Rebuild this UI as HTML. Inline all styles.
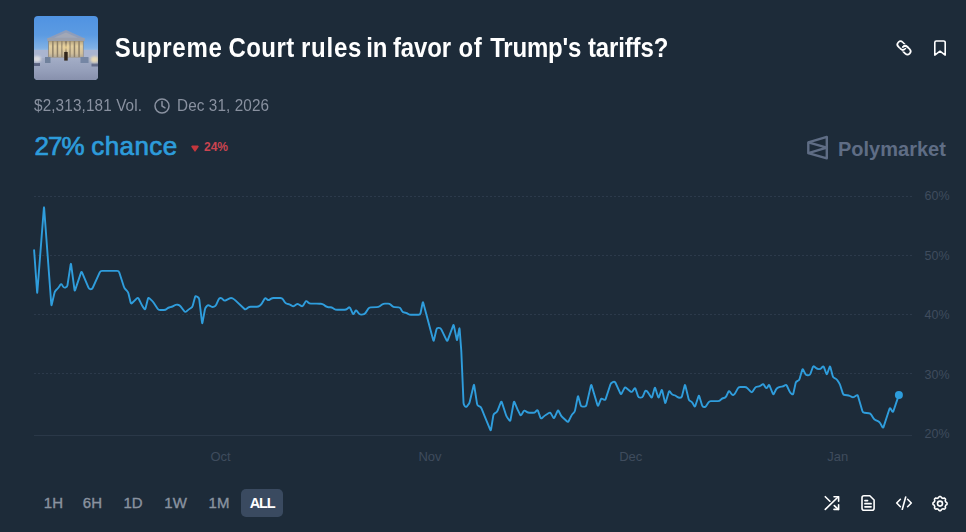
<!DOCTYPE html>
<html><head><meta charset="utf-8">
<style>
*{box-sizing:border-box;margin:0;padding:0}
html,body{width:966px;height:532px;background:#1d2b39;overflow:hidden;font-family:"Liberation Sans",sans-serif;}
.abs{position:absolute}
#thumb{left:34px;top:16px;width:64px;height:64px;border-radius:4px;overflow:hidden}
#title{left:0;top:34px;width:700px;height:30px;font-size:24px;font-weight:700;color:#fff;line-height:30px;white-space:nowrap;transform:scaleY(1.13);transform-origin:0 22.9px}
#title span{position:absolute;top:0}
#vol{left:34px;top:96px;font-size:15.3px;color:#8991a0;line-height:20px;white-space:nowrap;letter-spacing:0.12px;transform:scaleY(1.08);transform-origin:0 15px}
#date{left:177px;top:96px;font-size:15.3px;color:#8991a0;line-height:20px;white-space:nowrap;letter-spacing:0.1px;transform:scaleY(1.08);transform-origin:0 15px}
#chance{left:0;top:130px;font-size:26px;color:#2d9cdb;line-height:32px;white-space:nowrap;-webkit-text-stroke:0.7px #2d9cdb}
#chance span{position:absolute;top:0}
#delta{left:204px;top:140px;font-size:12px;font-weight:700;color:#cb4450;line-height:14px;white-space:nowrap}
#pm{left:838px;top:136.500px;font-size:20px;color:#5f6d85;line-height:24px;white-space:nowrap;font-weight:700}
.yl{left:922px;width:30px;font-size:12.5px;margin-top:0.7px;color:#3f4c5d;line-height:14px;white-space:nowrap;text-align:center}
.xl{top:449.700px;width:40px;font-size:13px;color:#3f4c5d;line-height:14px;white-space:nowrap;text-align:center}
.tb{top:495px;width:40px;font-size:15px;color:#8a93a0;line-height:16px;white-space:nowrap;text-align:center;-webkit-text-stroke:0.35px #8a93a0}
#all{left:240.5px;top:489px;width:42.7px;height:27.5px;border-radius:5px;background:#3a4a60;color:#fff;font-weight:700;font-size:14.5px;line-height:28.5px;text-align:center;letter-spacing:-1.1px;padding-left:0.5px}
svg{position:absolute;left:0;top:0;overflow:visible}
</style></head><body>
<div id="thumb" class="abs">
<svg width="64" height="64" viewBox="0 0 64 64">
<defs>
<linearGradient id="sky" x1="0" y1="0" x2="0" y2="1"><stop offset="0" stop-color="#5093e2"/><stop offset="0.3" stop-color="#5c9be2"/><stop offset="0.5" stop-color="#7fb0e4"/><stop offset="0.56" stop-color="#a4bfe0"/></linearGradient>
<linearGradient id="steps" x1="0" y1="0" x2="0" y2="1"><stop offset="0" stop-color="#a3adc6"/><stop offset="0.5" stop-color="#959fba"/><stop offset="1" stop-color="#838ca8"/></linearGradient>
<linearGradient id="col" x1="0" y1="0" x2="0" y2="1"><stop offset="0" stop-color="#b9a884"/><stop offset="0.3" stop-color="#e2cfa0"/><stop offset="0.75" stop-color="#d2c09c"/><stop offset="1" stop-color="#b0a898"/></linearGradient>
<radialGradient id="glow" cx="0.5" cy="0.45" r="0.5"><stop offset="0" stop-color="#f6dc9a" stop-opacity="0.9"/><stop offset="1" stop-color="#e8cf9a" stop-opacity="0"/></radialGradient>
<filter id="bl" x="-10%" y="-10%" width="120%" height="120%"><feGaussianBlur stdDeviation="0.75"/></filter>
<filter id="bl2" x="-30%" y="-30%" width="160%" height="160%"><feGaussianBlur stdDeviation="1.1"/></filter>
</defs>
<rect width="64" height="64" fill="url(#sky)"/>
<g filter="url(#bl)">
<rect x="-2" y="34" width="68" height="9" fill="#aab5d0"/>
<rect x="-2" y="42" width="68" height="25" fill="url(#steps)"/>
<polygon points="13,22.500 32,14 51,22.500" fill="#8e9dba"/>
<polygon points="20,21.800 32,16.500 44,21.800" fill="#a2a8b6"/>
<rect x="13.300" y="22" width="37.400" height="3.200" fill="#9a9fac"/>
<rect x="14.300" y="25" width="35.200" height="16.500" fill="#8f8168"/>
<g fill="url(#col)">
<rect x="15" y="25.300" width="3.100" height="16"/><rect x="19.600" y="25.300" width="3.100" height="16"/><rect x="24.200" y="25.300" width="3.100" height="16"/><rect x="28.500" y="25.300" width="2.400" height="16"/><rect x="33" y="25.300" width="2.400" height="16"/><rect x="36.600" y="25.300" width="3.100" height="16"/><rect x="41.200" y="25.300" width="3.100" height="16"/><rect x="45.800" y="25.300" width="3.100" height="16"/>
</g>
<rect x="27" y="27" width="10" height="10" fill="url(#glow)"/>
<rect x="30.200" y="36" width="3.500" height="8.600" fill="#33281c"/>
<rect x="11" y="41" width="5.500" height="6" fill="#6f819c"/>
<rect x="46.500" y="41" width="8" height="6" fill="#7486a4"/>
<rect x="-2" y="47" width="8" height="3" fill="#5a6482"/>
<rect x="57.500" y="47.500" width="8" height="3" fill="#626c8a"/>
</g>
<g filter="url(#bl2)">
<ellipse cx="3" cy="43" rx="4" ry="3" fill="#dcdce0"/>
<ellipse cx="60.500" cy="43.500" rx="4" ry="3.200" fill="#e6d9b6"/>
</g>
</svg>
</div>
<div id="title" class="abs"><span style="left:114.7px;letter-spacing:0.75px">Supreme</span><span style="left:228.4px;letter-spacing:0.45px">Court</span><span style="left:301.0px;letter-spacing:0.75px">rules</span><span style="left:366.2px;letter-spacing:0.00px">in</span><span style="left:393.0px;letter-spacing:-0.12px">favor</span><span style="left:458.4px;letter-spacing:0.80px">of</span><span style="left:490.2px;letter-spacing:-0.20px">Trump's</span><span style="left:588.0px;letter-spacing:-0.15px">tariffs?</span></div>
<div id="vol" class="abs">$2,313,181 Vol.</div>
<div id="date" class="abs">Dec 31, 2026</div>
<div id="chance" class="abs"><span style="left:34.500px;letter-spacing:-0.9px">27%</span><span style="left:91.200px;letter-spacing:0.45px">chance</span></div>
<div id="delta" class="abs">24%</div>
<div id="pm" class="abs">Polymarket</div>
<div class="abs yl" style="top:188px">60%</div>
<div class="abs yl" style="top:248px">50%</div>
<div class="abs yl" style="top:307px">40%</div>
<div class="abs yl" style="top:367px">30%</div>
<div class="abs yl" style="top:426px">20%</div>
<div class="abs xl" style="left:200.5px">Oct</div>
<div class="abs xl" style="left:410px">Nov</div>
<div class="abs xl" style="left:610.7px">Dec</div>
<div class="abs xl" style="left:817.7px">Jan</div>
<div class="abs tb" style="left:33.4px">1H</div>
<div class="abs tb" style="left:72.4px">6H</div>
<div class="abs tb" style="left:113px">1D</div>
<div class="abs tb" style="left:155.6px">1W</div>
<div class="abs tb" style="left:199px">1M</div>
<div id="all" class="abs">ALL</div>
<svg width="966" height="532" viewBox="0 0 966 532">
<!-- grid -->
<g stroke="#2c3a4b" stroke-width="1" stroke-dasharray="2 2" fill="none">
<path d="M34,196.5H912"/><path d="M34,255.5H912"/><path d="M34,314.5H912"/><path d="M34,373.5H912"/>
</g>
<path d="M34,435.5H912" stroke="#2a3848" stroke-width="1" fill="none"/>
<!-- line -->
<path d="M34.10,250.10L37.09,292.10Q37.20,293.70,37.32,292.10L43.88,207.90Q44.00,206.30,44.12,207.90L51.28,304.50Q51.40,306.10,51.76,304.54L54.44,292.96Q54.80,291.40,55.93,290.27L57.07,289.13Q58.20,288.00,59.09,286.67L60.31,284.83Q61.20,283.50,62.02,284.87L63.08,286.63Q63.90,288.00,65.42,287.49L65.68,287.41Q67.20,286.90,67.44,285.32L70.66,264.38Q70.90,262.80,71.11,264.39L74.49,289.81Q74.70,291.40,75.21,289.88L80.99,272.62Q81.50,271.10,82.12,272.58L88.48,287.72Q89.10,289.20,90.60,289.20L90.60,289.20Q92.10,289.20,92.76,287.74L99.74,272.36Q100.40,270.90,102.00,270.90L117.20,270.90Q118.80,270.90,119.29,272.42L123.81,286.58Q124.30,288.10,125.42,289.25L126.98,290.85Q128.10,292.00,128.47,293.56L130.63,302.54Q131.00,304.10,132.15,302.99L136.85,298.41Q138.00,297.30,138.71,298.73L141.49,304.37Q142.20,305.80,143.11,307.12L144.19,308.68Q145.10,310.00,145.49,308.45L147.91,298.85Q148.30,297.30,149.47,298.39L151.63,300.41Q152.80,301.50,153.69,302.83L157.61,308.67Q158.50,310.00,160.10,310.00L163.90,310.00Q165.50,310.00,166.69,308.93L167.11,308.57Q168.30,307.50,169.88,307.24L170.32,307.16Q171.90,306.90,173.27,306.08L174.73,305.22Q176.10,304.40,177.67,304.71L178.03,304.79Q179.60,305.10,180.58,306.37L184.32,311.23Q185.30,312.50,186.48,311.42L187.62,310.38Q188.80,309.30,190.17,308.48L190.93,308.02Q192.30,307.20,192.71,305.65L194.99,297.15Q195.40,295.60,196.74,296.47L197.76,297.13Q199.10,298.00,199.29,299.59L202.01,322.51Q202.20,324.10,202.49,322.53L204.91,309.47Q205.20,307.90,206.29,306.73L207.01,305.97Q208.10,304.80,209.49,305.59L211.11,306.51Q212.50,307.30,213.99,306.72L214.11,306.68Q215.60,306.10,216.26,304.64L218.64,299.46Q219.30,298.00,220.55,298.00L220.55,298.00Q221.80,298.00,222.80,299.25L223.30,299.85Q224.30,301.10,225.72,300.37L229.68,298.33Q231.10,297.60,232.50,298.37L232.80,298.53Q234.20,299.30,235.37,300.39L244.23,308.71Q245.40,309.80,246.63,308.77L247.87,307.73Q249.10,306.70,250.70,306.70L256.80,306.70Q258.40,306.70,259.65,305.70L260.25,305.20Q261.50,304.20,262.28,302.80L264.42,299.00Q265.20,297.60,266.39,298.67L267.21,299.43Q268.40,300.50,269.73,299.60L270.77,298.90Q272.10,298.00,273.70,298.00L280.40,298.00Q282.00,298.00,282.88,299.33L284.82,302.27Q285.70,303.60,287.28,303.85L287.92,303.95Q289.50,304.20,290.83,305.10L291.87,305.80Q293.20,306.70,294.50,305.76L296.20,304.54Q297.50,303.60,298.86,304.44L301.14,305.86Q302.50,306.70,303.32,305.33L305.38,301.87Q306.20,300.50,307.33,301.63L308.17,302.47Q309.30,303.60,310.90,303.60L316.40,303.60Q318.00,303.60,319.60,303.71L320.90,303.79Q322.50,303.90,323.78,304.86L325.52,306.14Q326.80,307.10,328.40,307.20L330.20,307.30Q331.80,307.40,333.14,308.27L334.16,308.93Q335.50,309.80,337.10,309.80L344.50,309.80Q346.10,309.80,347.30,308.74L348.40,307.76Q349.60,306.70,350.26,308.16L352.64,313.34Q353.30,314.80,354.06,313.39L355.24,311.21Q356.00,309.80,356.97,311.07L358.83,313.53Q359.80,314.80,361.39,314.61L363.11,314.39Q364.70,314.20,365.57,312.86L368.23,308.74Q369.10,307.40,370.70,307.35L376.80,307.15Q378.40,307.10,379.71,306.18L382.09,304.52Q383.40,303.60,385.00,303.60L388.00,303.60Q389.60,303.60,390.76,304.70L392.14,306.00Q393.30,307.10,394.90,307.17L398.50,307.33Q400.10,307.40,400.83,308.83L401.87,310.87Q402.60,312.30,404.18,312.55L405.42,312.75Q407.00,313.00,408.20,313.90L408.20,313.90Q409.40,314.80,411.00,314.80L418.60,314.80Q420.20,314.80,420.52,313.23L422.58,302.97Q422.90,301.40,423.31,302.95L433.19,339.95Q433.60,341.50,433.97,339.94L436.43,329.46Q436.80,327.90,438.40,327.90L439.00,327.90Q440.60,327.90,441.29,329.34L446.51,340.16Q447.20,341.60,447.76,340.10L453.04,325.80Q453.60,324.30,453.92,325.87L456.68,339.23Q457.00,340.80,457.29,339.23L459.21,328.97Q459.50,327.40,459.62,329.00L461.18,349.40Q461.30,351.00,461.37,352.60L463.53,402.90Q463.60,404.50,464.57,405.77L464.93,406.23Q465.90,407.50,466.94,406.28L468.26,404.72Q469.30,403.50,469.67,401.94L473.63,385.56Q474.00,384.00,474.24,385.58L477.06,403.82Q477.30,405.40,478.75,406.07L479.55,406.43Q481.00,407.10,481.59,408.59L483.31,412.91Q483.90,414.40,484.51,415.88L490.19,429.52Q490.80,431.00,491.06,429.42L493.34,415.38Q493.60,413.80,495.03,413.08L495.57,412.82Q497.00,412.10,497.59,410.61L500.81,402.39Q501.40,400.90,501.90,402.42L506.00,414.98Q506.50,416.50,507.44,417.80L509.26,420.30Q510.20,421.60,510.49,420.03L513.71,402.47Q514.00,400.90,514.62,402.38L517.18,408.52Q517.80,410.00,518.52,411.43L520.08,414.57Q520.80,416.00,521.60,414.61L523.40,411.49Q524.20,410.10,525.49,411.04L526.61,411.86Q527.90,412.80,529.50,412.80L533.10,412.80Q534.70,412.80,535.72,411.56L536.48,410.64Q537.50,409.40,538.03,410.91L540.37,417.49Q540.90,419.00,542.11,417.95L543.59,416.65Q544.80,415.60,546.15,414.75L548.85,413.05Q550.20,412.20,550.98,413.60L553.12,417.40Q553.90,418.80,554.58,417.35L557.42,411.25Q558.10,409.80,558.82,411.23L560.58,414.77Q561.30,416.20,562.47,417.29L566.83,421.31Q568.00,422.40,568.72,420.97L571.28,415.93Q572.00,414.50,573.13,413.37L573.67,412.83Q574.80,411.70,575.11,410.13L577.69,396.97Q578.00,395.40,578.41,396.95L580.59,405.05Q581.00,406.60,582.60,406.60L584.50,406.60Q586.10,406.60,586.45,405.04L590.85,385.66Q591.20,384.10,591.66,385.63L597.44,405.07Q597.90,406.60,598.50,405.12L600.70,399.68Q601.30,398.20,602.69,398.99L603.81,399.61Q605.20,400.40,605.70,398.88L610.40,384.52Q610.90,383.00,612.37,382.36L613.33,381.94Q614.80,381.30,615.47,382.75L620.33,393.35Q621.00,394.80,621.72,393.37L624.28,388.33Q625.00,386.90,626.23,387.93L630.47,391.47Q631.70,392.50,632.60,391.18L634.20,388.82Q635.10,387.50,635.61,389.02L637.99,396.08Q638.50,397.60,640.10,397.60L640.80,397.60Q642.40,397.60,643.02,396.13L644.98,391.47Q645.60,390.00,646.70,391.05L646.70,391.05Q647.80,392.10,648.67,393.44L650.93,396.96Q651.80,398.30,652.22,396.76L654.48,388.54Q654.90,387.00,655.39,388.52L658.01,396.78Q658.50,398.30,659.06,396.80L661.34,390.70Q661.90,389.20,662.26,390.76L664.94,402.34Q665.30,403.90,665.74,402.36L668.76,391.94Q669.20,390.40,670.07,391.74L671.23,393.56Q672.10,394.90,673.68,395.14L673.82,395.16Q675.40,395.40,676.65,396.39L677.05,396.71Q678.30,397.70,679.90,397.70L680.00,397.70Q681.60,397.70,681.99,396.15L684.61,385.75Q685.00,384.20,685.38,385.75L688.62,398.95Q689.00,400.50,690.40,401.05L690.40,401.05Q691.80,401.60,692.56,403.01L694.14,405.89Q694.90,407.30,695.39,405.78L698.41,396.42Q698.90,394.90,699.37,396.43L702.03,405.17Q702.50,406.70,703.90,407.00L703.90,407.00Q705.30,407.30,706.17,405.96L708.43,402.44Q709.30,401.10,710.90,401.10L717.80,401.10Q719.40,401.10,720.53,399.97L721.07,399.43Q722.20,398.30,723.78,398.02L724.02,397.98Q725.60,397.70,726.28,396.25L728.32,391.85Q729.00,390.40,729.90,391.72L731.50,394.08Q732.40,395.40,733.50,394.85L733.50,394.85Q734.60,394.30,735.37,392.90L737.83,388.40Q738.60,387.00,740.20,387.00L744.60,387.00Q746.20,387.00,747.31,388.15L750.69,391.65Q751.80,392.80,752.67,391.46L754.93,387.94Q755.80,386.60,757.40,386.60L757.60,386.60Q759.20,386.60,760.48,385.65L761.82,384.65Q763.10,383.70,763.99,385.03L765.61,387.47Q766.50,388.80,767.30,387.41L768.30,385.69Q769.10,384.30,769.68,385.79L772.72,393.51Q773.30,395.00,774.01,393.56L775.89,389.74Q776.60,388.30,778.03,387.58L778.57,387.32Q780.00,386.60,781.60,386.60L781.80,386.60Q783.40,386.60,784.64,385.58L784.96,385.32Q786.20,384.30,786.88,385.75L789.52,391.35Q790.20,392.80,791.46,393.79L791.74,394.01Q793.00,395.00,793.35,393.44L795.65,383.06Q796.00,381.50,797.51,380.98L797.69,380.92Q799.20,380.40,799.64,378.86L802.16,370.04Q802.60,368.50,803.32,369.93L805.28,373.87Q806.00,375.30,807.60,375.30L808.30,375.30Q809.90,375.30,810.43,373.79L812.77,367.21Q813.30,365.70,814.51,366.75L815.99,368.05Q817.20,369.10,818.80,369.10L819.00,369.10Q820.60,369.10,821.62,367.86L822.38,366.94Q823.40,365.70,823.95,367.20L826.25,373.50Q826.80,375.00,827.33,373.49L829.47,367.31Q830.00,365.80,830.41,367.35L832.69,376.05Q833.10,377.60,834.61,378.13L834.99,378.27Q836.50,378.80,837.36,380.15L838.84,382.45Q839.70,383.80,840.19,385.32L842.81,393.38Q843.30,394.90,844.90,395.02L847.00,395.18Q848.60,395.30,850.02,396.03L851.68,396.87Q853.10,397.60,854.43,396.71L856.27,395.49Q857.60,394.60,858.04,396.14L862.36,411.06Q862.80,412.60,864.39,412.77L868.81,413.23Q870.40,413.40,871.24,414.76L873.26,418.04Q874.10,419.40,875.57,420.04L877.93,421.06Q879.40,421.70,880.17,423.10L882.33,427.00Q883.10,428.40,883.59,426.88L889.41,408.92Q889.90,407.40,890.70,408.79L892.10,411.21Q892.90,412.60,893.41,411.08L898.90,394.90" fill="none" stroke="#2f9ddc" stroke-width="1.9" stroke-linejoin="round" stroke-linecap="round"/>
<circle cx="898.9" cy="394.9" r="4" fill="#2d9cdb"/>
<!-- delta triangle -->
<path d="M192.2,145.6h5.6a0.9,0.9 0 0 1 .75,1.4l-2.8,4.1a0.9,0.9 0 0 1 -1.5,0l-2.8,-4.1a0.9,0.9 0 0 1 .75,-1.4z" fill="#c4373d"/>
<!-- clock -->
<g fill="none" stroke="#8991a0" stroke-width="1.5" stroke-linecap="round" stroke-linejoin="round"><circle cx="162" cy="106" r="7"/><path d="M162,101.5v4.5l3,1.8"/></g>
<!-- link -->
<defs><clipPath id="cu"><rect x="-3" y="-6" width="6" height="6"/></clipPath><clipPath id="cl"><rect x="-3" y="0" width="6" height="6"/></clipPath></defs>
<g fill="none" stroke="#fff" stroke-width="1.7" stroke-linecap="round" stroke-linejoin="round" transform="translate(904 47.9) rotate(45)">
<rect x="-8" y="-3.1" width="9.4" height="6.2" rx="3.1"/>
<rect x="-1.4" y="-3.1" width="9.4" height="6.2" rx="3.1" stroke="#1d2b39" stroke-width="3.6" clip-path="url(#cu)"/>
<rect x="-1.4" y="-3.1" width="9.4" height="6.2" rx="3.1"/>
<rect x="-8" y="-3.1" width="9.4" height="6.2" rx="3.1" stroke="#1d2b39" stroke-width="3.6" clip-path="url(#cl)"/>
<rect x="-8" y="-3.1" width="9.4" height="6.2" rx="3.1" clip-path="url(#cl)"/>
<rect x="-1.4" y="-3.1" width="9.4" height="6.2" rx="3.1" clip-path="url(#cu)"/>
</g>
<!-- bookmark -->
<path d="M936.3,41h7.4a1.5,1.5 0 0 1 1.5,1.5v12.6l-5.2,-3.9l-5.2,3.9v-12.6a1.5,1.5 0 0 1 1.5,-1.5z" fill="none" stroke="#fff" stroke-width="1.6" stroke-linejoin="round"/>
<!-- polymarket logo -->
<g fill="none" stroke="#5f6d85" stroke-width="2.4" stroke-linejoin="round"><path d="M826.8,136.9V158.300L808.300,153.200V142.400z"/><path d="M808.300,142.400L826.800,147.600L808.300,153.200"/></g>
<!-- shuffle -->
<g fill="none" stroke="#fff" stroke-width="1.6" stroke-linecap="round" stroke-linejoin="round">
<path d="M825.300,496.700l4.600,4.500M834.300,505.600l4,3.800"/><path d="M834,509.400h4.600v-4.600"/><path d="M825.300,509.400l13,-12.600"/><path d="M834,496.700h4.600v4.600"/>
</g>
<!-- file -->
<g fill="none" stroke="#fff" stroke-width="1.6" stroke-linecap="round" stroke-linejoin="round">
<path d="M864,495.700h5.800l4.300,4.300v8.200a2,2 0 0 1 -2,2h-8.100a2,2 0 0 1 -2,-2v-10.500a2,2 0 0 1 2,-2z"/><path d="M865,500.600h2.500M865,503.700h6M865,506.800h6" stroke-width="1.800"/>
</g>
<!-- code -->
<g fill="none" stroke="#fff" stroke-width="1.6" stroke-linecap="round" stroke-linejoin="round">
<path d="M900.400,499.300l-3.700,3.700l3.700,3.700"/><path d="M907.600,499.300l3.700,3.700l-3.700,3.700"/><path d="M905.700,497l-3.400,12.300"/>
</g>
<!-- gear -->
<g fill="none" stroke="#fff" stroke-width="1.6" stroke-linejoin="round">
<circle cx="940" cy="503.600" r="2.500"/>
<path id="gear" d="M947.05,503.60L947.04,503.95L947.02,504.29L946.80,504.61L946.38,504.87L945.94,505.09L945.69,505.33L945.60,505.60L945.50,505.88L945.38,506.14L945.25,506.40L945.25,506.75L945.40,507.21L945.53,507.70L945.45,508.07L945.22,508.33L944.99,508.59L944.73,508.82L944.47,509.05L944.10,509.13L943.61,509.00L943.15,508.85L942.80,508.85L942.54,508.98L942.28,509.10L942.00,509.20L941.73,509.29L941.49,509.54L941.27,509.98L941.01,510.40L940.69,510.62L940.35,510.64L940.00,510.65L939.65,510.64L939.31,510.62L938.99,510.40L938.73,509.98L938.51,509.54L938.27,509.29L938.00,509.20L937.72,509.10L937.46,508.98L937.20,508.85L936.85,508.85L936.39,509.00L935.90,509.13L935.53,509.05L935.27,508.82L935.01,508.59L934.78,508.33L934.55,508.07L934.47,507.70L934.60,507.21L934.75,506.75L934.75,506.40L934.62,506.14L934.50,505.88L934.40,505.60L934.31,505.33L934.06,505.09L933.62,504.87L933.20,504.61L932.98,504.29L932.96,503.95L932.95,503.60L932.96,503.25L932.98,502.91L933.20,502.59L933.62,502.33L934.06,502.11L934.31,501.87L934.40,501.60L934.50,501.32L934.62,501.06L934.75,500.80L934.75,500.45L934.60,499.99L934.47,499.50L934.55,499.13L934.78,498.87L935.01,498.61L935.27,498.38L935.53,498.15L935.90,498.07L936.39,498.20L936.85,498.35L937.20,498.35L937.46,498.22L937.72,498.10L938.00,498.00L938.27,497.91L938.51,497.66L938.73,497.22L938.99,496.80L939.31,496.58L939.65,496.56L940.00,496.55L940.35,496.56L940.69,496.58L941.01,496.80L941.27,497.22L941.49,497.66L941.73,497.91L942.00,498.00L942.28,498.10L942.54,498.22L942.80,498.35L943.15,498.35L943.61,498.20L944.10,498.07L944.47,498.15L944.73,498.38L944.99,498.61L945.22,498.87L945.45,499.13L945.53,499.50L945.40,499.99L945.25,500.45L945.25,500.80L945.38,501.06L945.50,501.32L945.60,501.60L945.69,501.87L945.94,502.11L946.38,502.33L946.80,502.59L947.02,502.91L947.04,503.25L947.05,503.60Z"/>
</g>
</svg>
</body></html>
